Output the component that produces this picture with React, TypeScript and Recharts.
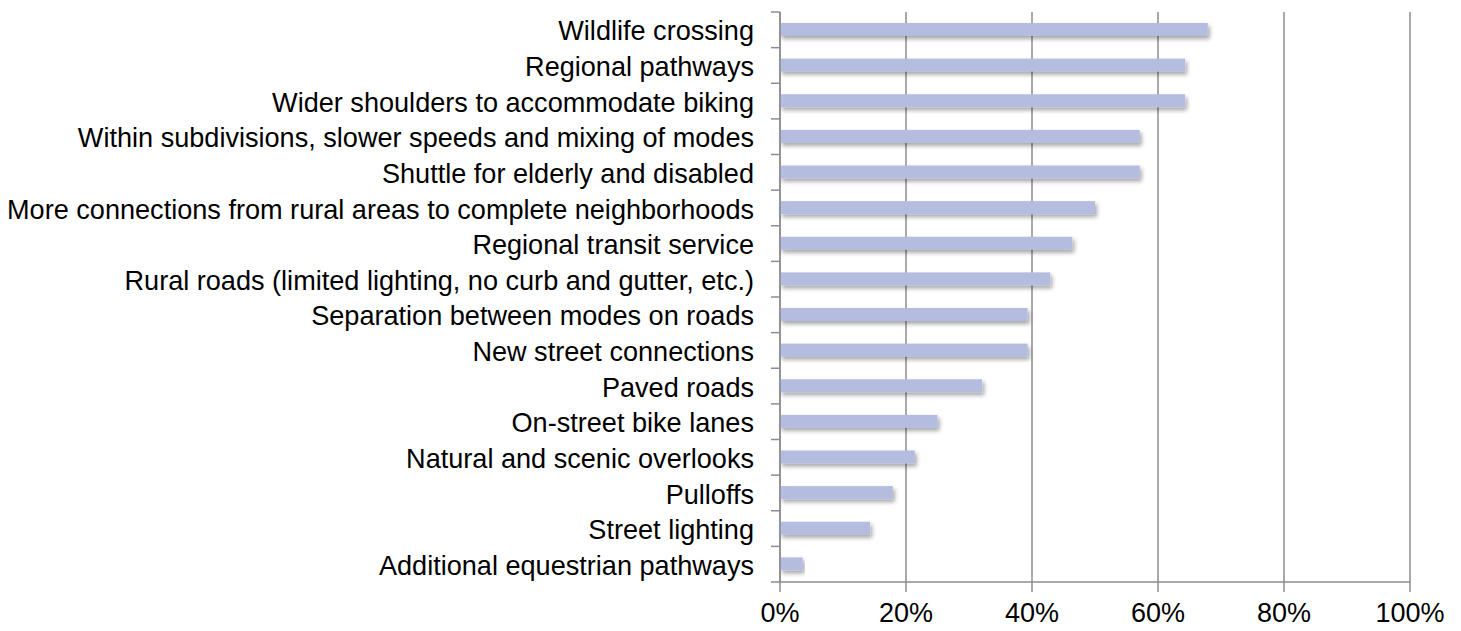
import { BarChart, Bar, XAxis, YAxis, CartesianGrid } from "recharts";

const categories = [
  "Wildlife crossing",
  "Regional pathways",
  "Wider shoulders to accommodate biking",
  "Within subdivisions, slower speeds and mixing of modes",
  "Shuttle for elderly and disabled",
  "More connections from rural areas to complete neighborhoods",
  "Regional transit service",
  "Rural roads (limited lighting, no curb and gutter, etc.)",
  "Separation between modes on roads",
  "New street connections",
  "Paved roads",
  "On-street bike lanes",
  "Natural and scenic overlooks",
  "Pulloffs",
  "Street lighting",
  "Additional equestrian pathways",
];

const shares = [67.9, 64.3, 64.3, 57.1, 57.1, 50.0, 46.4, 42.9, 39.3, 39.3, 32.1, 25.0, 21.4, 17.9, 14.3, 3.6];

const xTicks = [0, 20, 40, 60, 80, 100];

const data = categories.map((name, i) => ({ name, value: shares[i] }));

const FONT = '"Liberation Sans", Arial, Helvetica, sans-serif';
const GREY = "#8c8c8c";
const PLOT_H = 570;
const BAND = PLOT_H / categories.length;

const CategoryTick = (props: any) => {
  const { x, y, payload, index } = props;
  const axisX = x + 26;
  return (
    <g>
      <line x1={axisX - 9} x2={axisX} y1={y - BAND / 2} y2={y - BAND / 2} stroke={GREY} strokeWidth={1.5} />
      {index === categories.length - 1 ? (
        <line x1={axisX - 9} x2={axisX} y1={y + BAND / 2} y2={y + BAND / 2} stroke={GREY} strokeWidth={1.5} />
      ) : null}
      <text x={x} y={y + 1} dy="0.355em" textAnchor="end" fill="#000" fontSize={27.1} fontFamily={FONT}>
        {payload.value}
      </text>
    </g>
  );
};

const ShadowBar = (props: any) => {
  const { x, y, width, height, fill } = props;
  if (!width || width <= 0) return null;
  return <rect x={x} y={y} width={width} height={height} fill={fill} filter="url(#barShadow)" />;
};

export default function App() {
  return (
    <div style={{ position: "absolute", left: 0, top: 0, width: 1461, height: 631, background: "#fff" }}>
      <BarChart
        width={1461}
        height={631}
        data={data}
        layout="vertical"
        margin={{ top: 12, right: 51, bottom: 9, left: 0 }}
      >
        <defs>
          <filter id="barShadow" x="-5%" y="-50%" width="115%" height="250%">
            <feDropShadow dx={2} dy={3} stdDeviation={2} floodColor="#000" floodOpacity={0.35} />
          </filter>
        </defs>
        <CartesianGrid horizontal={false} stroke={GREY} strokeWidth={1.5} />
        <XAxis
          type="number"
          domain={[0, 100]}
          ticks={xTicks}
          tickFormatter={(v: number) => `${v}%`}
          stroke={GREY}
          strokeWidth={1.5}
          tickSize={10}
          tickMargin={11}
          height={40}
          tick={{ fill: "#000", fontSize: 27, fontFamily: FONT }}
        />
        <YAxis
          type="category"
          dataKey="name"
          width={780}
          tickSize={0}
          tickMargin={26}
          tickLine={false}
          stroke={GREY}
          strokeWidth={1.5}
          interval={0}
          tick={<CategoryTick />}
        />
        <Bar dataKey="value" fill="#b4bde0" barSize={13} isAnimationActive={false} shape={<ShadowBar />} />
      </BarChart>
    </div>
  );
}
